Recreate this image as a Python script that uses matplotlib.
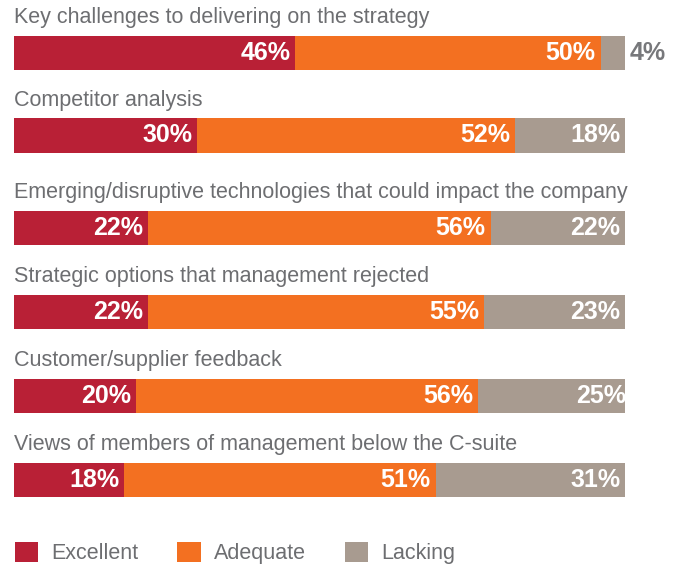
import matplotlib.pyplot as plt
from matplotlib.patches import Patch

plt.rcParams['font.family'] = ['Liberation Sans', 'DejaVu Sans']

categories = ['Key challenges to delivering on the strategy',
              'Competitor analysis',
              'Emerging/disruptive technologies that could impact the company',
              'Strategic options that management rejected',
              'Customer/supplier feedback',
              'Views of members of management below the C-suite']
excellent = [46, 30, 22, 22, 20, 18]
adequate = [50, 52, 56, 55, 56, 51]
lacking = [4, 18, 22, 23, 25, 31]

series_names = ['Excellent', 'Adequate', 'Lacking']
colors = ['#B92036', '#F37021', '#A89B90']
label_gray = '#6D6E71'
pct_font = ['Liberation Sans Narrow', 'Liberation Sans', 'DejaVu Sans']

# row positions (slightly uneven spacing as in the original layout)
ys = [0, 0.966, 2.05, 3.03, 4.02, 5.0]

W, H = 682, 565
fig = plt.figure(figsize=(W / 100, H / 100), dpi=100)
ax = fig.add_axes([14 / W, 1 - 510 / H, (625 - 14) / W, 510 / H])

bar_h = 0.4
lefts = [0] * len(categories)
for vals, col in zip([excellent, adequate, lacking], colors):
    ax.barh(ys, vals, left=lefts, height=bar_h, color=col, linewidth=0)
    lefts = [l + v for l, v in zip(lefts, vals)]

for i, cat in enumerate(categories):
    y = ys[i]
    ax.text(0, y - 0.415, cat, ha='left', va='center', fontsize=15.5, color=label_gray)
    ends = [excellent[i], excellent[i] + adequate[i], excellent[i] + adequate[i] + lacking[i]]
    vals = [excellent[i], adequate[i], lacking[i]]
    for e, v in zip(ends, vals):
        if v < 8:
            ax.text(e + 0.8, y, f'{v}%', ha='left', va='center', fontsize=18,
                    fontweight='bold', color='#77787B', family=pct_font)
        else:
            ax.text(e - 0.8, y, f'{v}%', ha='right', va='center', fontsize=18,
                    fontweight='bold', color='white', family=pct_font)

ax.set_xlim(0, 100)
ax.set_ylim(5.35, -0.62)
ax.axis('off')

handles = [Patch(facecolor=c, edgecolor='none') for c in colors]
fig.legend(handles, series_names, loc='center left', bbox_to_anchor=(15 / W, 1 - 553 / H),
           ncol=3, frameon=False, fontsize=15.5, handlelength=1.07, handleheight=1.07,
           handletextpad=0.63, columnspacing=1.8, labelcolor=label_gray,
           borderpad=0, borderaxespad=0)

fig.savefig('out.png', dpi=100)
